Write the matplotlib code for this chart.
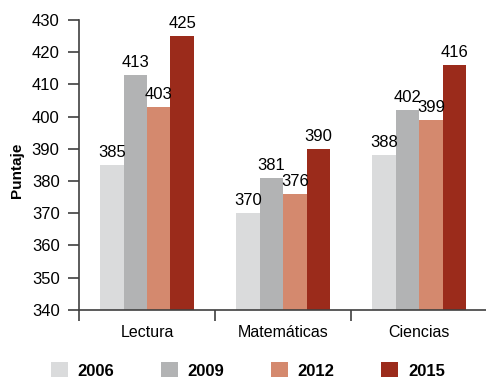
import matplotlib.pyplot as plt
import numpy as np

plt.rcParams['font.family'] = ['Liberation Sans', 'DejaVu Sans']

materias = ['Lectura', 'Matemáticas', 'Ciencias']
anios = ['2006', '2009', '2012', '2015']
v2006 = [385, 370, 388]
v2009 = [413, 381, 402]
v2012 = [403, 376, 399]
v2015 = [425, 390, 416]
colores = ['#dadbdc', '#b2b3b4', '#d4896e', '#9b2b1b']

series = [v2006, v2009, v2012, v2015]

fig = plt.figure(figsize=(4.86, 3.84), dpi=100)
ax = fig.add_axes([0.1626, 0.193, 0.84, 0.755])

x = np.arange(len(materias))
w = 0.172
for i, vals in enumerate(series):
    pos = x + (i - 1.5) * w
    ax.bar(pos, np.array(vals) - 340, w, bottom=340, color=colores[i],
           label=anios[i], zorder=2)
    for p, v in zip(pos, vals):
        ax.text(p, v + 1.5, str(v), ha='center', va='bottom', fontsize=12)

ax.set_ylim(340, 430)
ax.set_yticks(range(340, 431, 10))
ax.set_xlim(-0.5, 2.5)
ax.set_xticks(x)
ax.set_xticklabels(materias, fontsize=11.5)
ax.set_xticks([-0.5, 0.5, 1.5, 2.5], minor=True)
ax.tick_params(axis='x', which='major', length=0, pad=11)
ax.tick_params(axis='x', which='minor', length=8, width=1.2, color='#404040', direction='out')
ax.tick_params(axis='y', labelsize=12, length=8, width=1.2, color='#404040', pad=6)
ax.set_ylabel('Puntaje', fontsize=11, fontweight='bold', labelpad=4)
ax.yaxis.set_label_coords(-0.135, 0.48)

for s in ['top', 'right']:
    ax.spines[s].set_visible(False)
for s in ['left', 'bottom']:
    ax.spines[s].set_color('#404040')
    ax.spines[s].set_linewidth(1.2)

fig.legend(loc='lower center', ncol=4, frameon=False, bbox_to_anchor=(0.51, -0.025),
           prop={'weight': 'bold', 'size': 12}, handlelength=1.0, handleheight=1.0,
           columnspacing=2.8, handletextpad=0.6)

fig.savefig('out.png', dpi=100)
